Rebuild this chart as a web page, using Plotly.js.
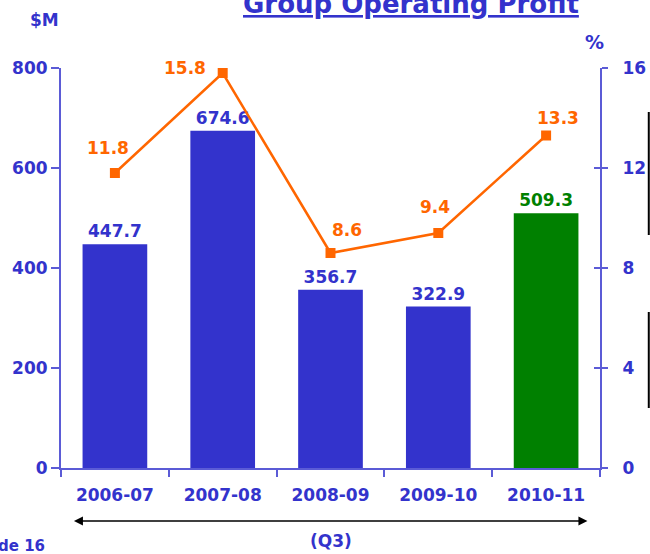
<!DOCTYPE html>
<html>
<head>
<meta charset="utf-8">
<script src="https://cdn.plot.ly/plotly-3.0.1.min.js"></script>
<style>html,body{margin:0;padding:0;background:#fff;}#chart{width:650px;height:554px;}</style>
</head>
<body>
<div id="chart"></div>
<script>
const categories = ["2006-07", "2007-08", "2008-09", "2009-10", "2010-11"];
const profitM = [447.7, 674.6, 356.7, 322.9, 509.3];
const marginPct = [11.8, 15.8, 8.6, 9.4, 13.3];
const leftTicks = [0, 200, 400, 600, 800];
const rightTicks = [0, 4, 8, 12, 16];

const BLUE = "#3333CC", GREEN = "#008000", ORANGE = "#FF6600", AXIS = "#5B5BD6";
const FONT = "DejaVu Sans";
const barColors = profitM.map((v, i) => i === profitM.length - 1 ? GREEN : BLUE);
const lblShift = [[-7, 25], [-38, 5], [16, 23], [-3, 26], [12, 18]];

const bars = {
  type: "bar", x: categories, y: profitM, width: 0.6,
  marker: {color: barColors},
  text: profitM.map(v => "<b>" + v.toFixed(1) + "</b>"),
  textposition: "outside", cliponaxis: false,
  textfont: {family: FONT, size: 17, color: barColors},
  hoverinfo: "skip", showlegend: false
};
const line = {
  type: "scatter", mode: "lines+markers", x: categories, y: marginPct, yaxis: "y2",
  line: {color: ORANGE, width: 2.5},
  marker: {symbol: "square", size: 10, color: ORANGE},
  hoverinfo: "skip", showlegend: false
};
const dummy = {type: "scatter", x: categories, y: marginPct, yaxis: "y3", mode: "none", hoverinfo: "skip", showlegend: false};

const annotations = marginPct.map((v, i) => ({
  x: categories[i], y: v, xref: "x", yref: "y2", showarrow: false,
  text: "<b>" + v.toFixed(1) + "</b>", xshift: lblShift[i][0], yshift: lblShift[i][1],
  font: {family: FONT, size: 17, color: ORANGE}
}));
annotations.push(
  {xref: "paper", yref: "paper", x: 0.334, y: 1.117, xanchor: "left", yanchor: "bottom", showarrow: false,
   text: "<b><u>Group Operating Profit</u></b>", font: {family: FONT, size: 26, color: BLUE}},
  {xref: "paper", yref: "paper", x: -0.0315, y: 1.12, xanchor: "center", yanchor: "middle", showarrow: false,
   text: "<b>$M</b>", font: {family: FONT, size: 17, color: BLUE}},
  {xref: "paper", yref: "paper", x: 0.989, y: 1.065, xanchor: "center", yanchor: "middle", showarrow: false,
   text: "<b>%</b>", font: {family: FONT, size: 19, color: BLUE}},
  {xref: "paper", yref: "paper", x: 0.5, y: -0.1825, xanchor: "center", yanchor: "middle", showarrow: false,
   text: "<b>(Q3)</b>", font: {family: FONT, size: 17, color: BLUE}},
  {xref: "paper", yref: "paper", x: -0.12, y: -0.195, xanchor: "left", yanchor: "middle", showarrow: false,
   text: "<b>de 16</b>", font: {family: FONT, size: 15, color: BLUE}},
  {xref: "paper", yref: "paper", x: 0.024, y: -0.1325, ax: 515, ay: 0, text: "",
   showarrow: true, arrowside: "end+start", arrowhead: 2, arrowsize: 1.2, arrowwidth: 1.5, arrowcolor: "#000"}
);

const shapes = [
  {type: "line", xref: "paper", yref: "paper", x0: 1.0905, x1: 1.0905, y0: (468-112)/400, y1: (468-235)/400, line: {color: "#000", width: 2}},
  {type: "line", xref: "paper", yref: "paper", x0: 1.0905, x1: 1.0905, y0: (468-312)/400, y1: (468-408)/400, line: {color: "#000", width: 2}}
];

const layout = {
  width: 650, height: 554,
  margin: {l: 61, r: 50, t: 68, b: 86},
  paper_bgcolor: "#fff", plot_bgcolor: "#fff",
  font: {family: FONT, color: BLUE},
  xaxis: {
    type: "category", showline: true, linecolor: AXIS, linewidth: 2,
    ticks: "outside", tickson: "boundaries", ticklen: 7, tickcolor: AXIS, tickwidth: 2,
    tickfont: {family: FONT, size: 17, color: BLUE, weight: "bold"}, ticklabelstandoff: 11,
    showgrid: false, zeroline: false
  },
  yaxis: {
    range: [0, 800], tickvals: leftTicks, ticktext: leftTicks.map(String),
    showline: true, linecolor: AXIS, linewidth: 2, ticks: "outside", ticklen: 8, tickcolor: AXIS, tickwidth: 2,
    tickfont: {family: FONT, size: 17, color: BLUE, weight: "bold"}, ticklabelstandoff: 0,
    showgrid: false, zeroline: false
  },
  yaxis2: {
    range: [0, 16], tickvals: rightTicks, ticktext: rightTicks.map(String), overlaying: "y", side: "right",
    showline: true, linecolor: AXIS, linewidth: 2, ticks: "outside", ticklen: 6, tickcolor: AXIS, tickwidth: 2,
    tickfont: {family: FONT, size: 17, color: BLUE, weight: "bold"}, ticklabelstandoff: 11,
    showgrid: false, zeroline: false
  },
  yaxis3: {
    range: [0, 16], tickvals: rightTicks, overlaying: "y", side: "right", showticklabels: false,
    showline: false, ticks: "inside", ticklen: 6, tickcolor: AXIS, tickwidth: 2,
    showgrid: false, zeroline: false
  },
  annotations: annotations, shapes: shapes, showlegend: false
};

Plotly.newPlot("chart", [bars, line, dummy], layout, {staticPlot: true, displayModeBar: false});
</script>
</body>
</html>
